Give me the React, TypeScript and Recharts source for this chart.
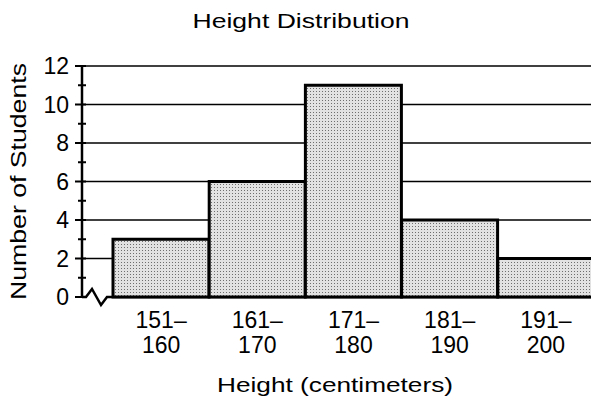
import { BarChart, Bar, XAxis, YAxis, CartesianGrid, Customized } from "recharts";

const heightRanges = ["151–160", "161–170", "171–180", "181–190", "191–200"];
const studentCounts = [3, 6, 11, 4, 2];
const yTicks = [0, 1, 2, 3, 4, 5, 6, 7, 8, 9, 10, 11, 12];
const gridValues = [2, 4, 6, 8, 10, 12];

const FONT = "'Liberation Sans', Arial, Helvetica, sans-serif";
const W = 594;
const H = 400;
const Y_AXIS_W = 50;
const X_AXIS_H = 30;
const PLOT_LEFT = 82;
const PLOT_BOTTOM = 297;
const margin = { top: 66, right: 0, bottom: H - PLOT_BOTTOM - X_AXIS_H, left: PLOT_LEFT - Y_AXIS_W };

const data = heightRanges.map((range, i) => ({ range, count: studentCounts[i] }));

const YTick = (props: any) => {
  const { x, y, payload } = props;
  const v = payload.value as number;
  const major = v % 2 === 0;
  return (
    <g>
      <line x1={x - (major ? 7 : 4)} x2={x + 4} y1={y} y2={y} stroke="#000" strokeWidth={2} />
      {major && (
        <text x={x - 13} y={y} dy={8} textAnchor="end" fontSize={23} fontFamily={FONT} fill="#000">
          {v}
        </text>
      )}
    </g>
  );
};

const XTick = (props: any) => {
  const { x, y, payload } = props;
  const [from, to] = String(payload.value).split("–");
  return (
    <text x={x} y={y} textAnchor="middle" fontSize={23} fontFamily={FONT} fill="#000">
      <tspan x={x} dy={31}>{from}–</tspan>
      <tspan x={x} dy={25}>{to}</tspan>
    </text>
  );
};

// title, axis titles and the broken x-axis baseline
const Overlay = () => {
  const left = PLOT_LEFT;
  const base = PLOT_BOTTOM;
  const midY = (margin.top + base) / 2;
  return (
    <g>
      <path
        d={`M${left},${base} L${left + 4},${base} L${left + 10},${base - 8} L${left + 19},${base + 8} L${left + 25},${base} L${W},${base}`}
        fill="none"
        stroke="#000"
        strokeWidth={2.5}
      />
      <text x={301} y={28} textAnchor="middle" fontSize={21} fontFamily={FONT} fill="#000"
        textLength={217} lengthAdjust="spacingAndGlyphs">
        Height Distribution
      </text>
      <text x={335} y={392} textAnchor="middle" fontSize={21} fontFamily={FONT} fill="#000"
        textLength={236} lengthAdjust="spacingAndGlyphs">
        Height (centimeters)
      </text>
      <text
        x={26}
        y={midY}
        transform={`rotate(-90, 26, ${midY})`}
        textAnchor="middle"
        fontSize={22}
        fontFamily={FONT}
        fill="#000"
        textLength={237}
        lengthAdjust="spacingAndGlyphs"
      >
        Number of Students
      </text>
    </g>
  );
};

export default function App() {
  return (
    <div style={{ position: "absolute", left: 0, top: 0, width: 591, height: 400, overflow: "hidden", background: "#fff" }}>
      <svg width={0} height={0} style={{ position: "absolute" }}>
        <defs>
          <pattern id="stipple" width={3} height={3} patternUnits="userSpaceOnUse">
            <rect width={3} height={3} fill="#e2e2e2" />
            <rect x={1} y={1} width={1} height={1} fill="#6e6e6e" />
          </pattern>
        </defs>
      </svg>
      <BarChart width={W} height={H} data={data} margin={margin} barCategoryGap={0}>
        <CartesianGrid vertical={false} horizontalValues={gridValues} stroke="#000" strokeWidth={1.5} />
        <XAxis
          dataKey="range"
          height={X_AXIS_H}
          axisLine={false}
          tickLine={false}
          tickSize={0}
          tickMargin={0}
          interval={0}
          padding={{ left: 31, right: 0 }}
          tick={<XTick />}
        />
        <YAxis
          width={Y_AXIS_W}
          domain={[0, 12]}
          ticks={yTicks}
          interval={0}
          tickSize={0}
          tickMargin={0}
          tickLine={false}
          axisLine={{ stroke: "#000", strokeWidth: 2.5 }}
          tick={<YTick />}
        />
        <Bar
          dataKey="count"
          fill="url(#stipple) #d8d8d8"
          stroke="#000"
          strokeWidth={3}
          isAnimationActive={false}
        />
        <Customized component={Overlay} />
      </BarChart>
    </div>
  );
}
